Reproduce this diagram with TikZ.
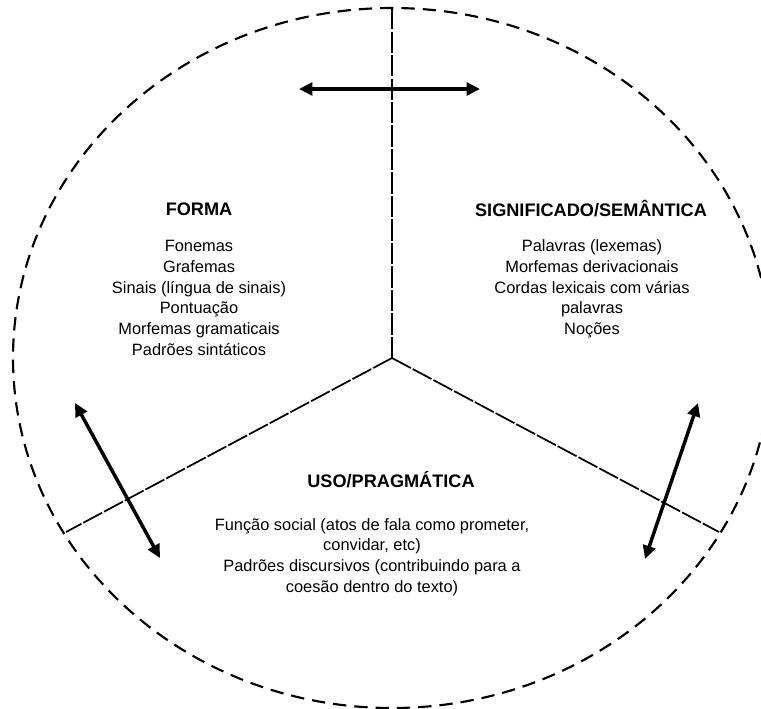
\documentclass[tikz,border=0pt]{standalone}
\usepackage{fontspec}
\setmainfont{Liberation Sans}
\usetikzlibrary{arrows.meta}

\begin{document}
\begin{tikzpicture}[x=0.75pt,y=-0.75pt,
  rim/.style={line width=1.6pt, dash pattern=on 10pt off 6pt},
  divider/.style={line width=1.3pt, dash pattern=on 16pt off 1.6pt},
  link/.style={line width=2.6pt,
    {Triangle[length=10pt,width=9.5pt]}-{Triangle[length=10pt,width=9.5pt]}},
  head/.style={font=\fontsize{13.6}{16}\selectfont\bfseries, inner sep=0pt},
  items/.style={font=\fontsize{12.3}{15.5}\selectfont, align=center, inner sep=0pt}]
\useasboundingbox (0,0) rectangle (761,708);

% outer boundary
\draw[rim] (392,358) ellipse [x radius=379, y radius=350];

% the three sectors
\coordinate (hub) at (392,358);
\coordinate (topend) at (392,8);
\coordinate (leftend) at (66,532);
\coordinate (rightend) at (719,532);
\draw[divider] (hub) -- (topend);
\draw[divider] (hub) -- (leftend);
\draw[divider] (hub) -- (rightend);

% double arrows across the dividers
\coordinate (ta1) at (299,89);
\coordinate (ta2) at (480,89);
\coordinate (la1) at (75,403);
\coordinate (la2) at (160,558);
\coordinate (ra1) at (698,403);
\coordinate (ra2) at (645,559);
\draw[link] (ta1) -- (ta2);
\draw[link] (la1) -- (la2);
\draw[link] (ra1) -- (ra2);

% sector texts
\node[head] (forma) at (199,209) {FORMA};
\node[items] (formalist) at (199,298) {Fonemas\\Grafemas\\Sinais (língua de sinais)\\Pontuação\\Morfemas gramaticais\\Padrões sintáticos};

\node[head] (sem) at (591,209) {SIGNIFICADO/SEMÂNTICA};
\node[items] (semlist) at (592,289) {Palavras (lexemas)\\Morfemas derivacionais\\Cordas lexicais com várias\\palavras\\Noções};

\node[head] (uso) at (391,480) {USO/PRAGMÁTICA};
\node[items] (usolist) at (372,557) {Função social (atos de fala como prometer,\\convidar, etc)\\Padrões discursivos (contribuindo para a\\coesão dentro do texto)};
\end{tikzpicture}
\end{document}
